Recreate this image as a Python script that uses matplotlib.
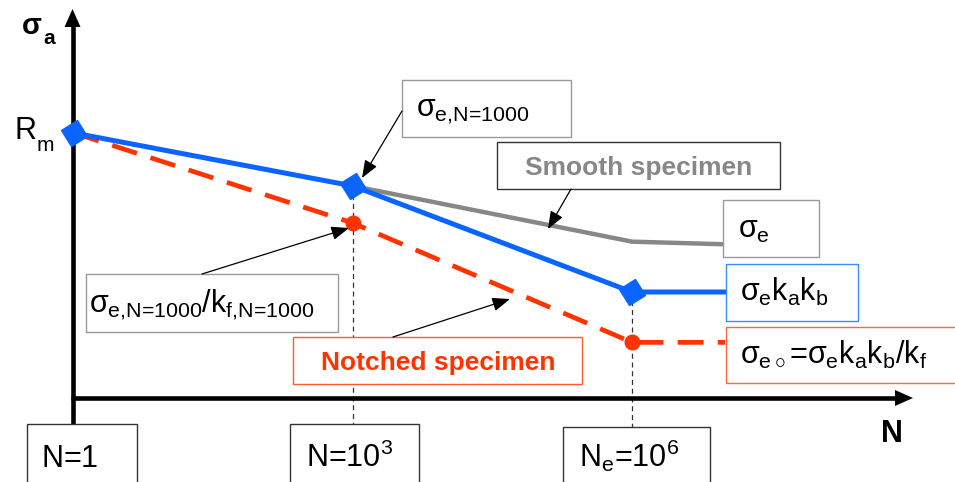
import numpy as np
import matplotlib
matplotlib.use("Agg")
import matplotlib.pyplot as plt
from matplotlib.transforms import Affine2D
from matplotlib.markers import MarkerStyle
from matplotlib.patches import Rectangle, Polygon

plt.rcParams['font.family'] = ['Liberation Sans', 'DejaVu Sans']
plt.rcParams['mathtext.fontset'] = 'custom'
plt.rcParams['mathtext.rm'] = 'Liberation Sans'
plt.rcParams['mathtext.it'] = 'Liberation Sans'
plt.rcParams['mathtext.bf'] = 'Liberation Sans:bold'

# ---- data (x = log10 N, y = sigma_a / R_m) ----
logN_blue = [0, 3, 6, 7]
sig_blue = [1.00, 0.80, 0.40, 0.40]
logN_gray = [3, 6, 7]
sig_gray = [0.80, 0.59, 0.58]
logN_red = [0, 3, 6, 7]
sig_red = [1.00, 0.66, 0.21, 0.21]
tick_logN = [0, 3, 6]
tick_labels = [r'$\text{N=1}$', r'$\text{N=10}^{\text{3}}$', r'$\text{N}_{\text{e}}\text{=10}^{\text{6}}$']

BLUE = '#0a64ff'
RED = '#ff3300'
GRAY = '#878787'

W, H = 955, 482
fig = plt.figure(figsize=(W / 100, H / 100), dpi=100)
ax = fig.add_axes([0, 0, 1, 1])
X0, XS, Y0, YS = 74, 93, 398, 265
ax.set_xlim(-X0 / XS, (W - X0) / XS)
ax.set_ylim((Y0 - H) / YS, Y0 / YS)
ax.axis('off')

# pixel transform (origin top-left)
P = Affine2D().scale(1 / W, -1 / H).translate(0, 1) + fig.transFigure


def ydata(ypx):
    return (Y0 - ypx) / YS


# ---- axes with arrows ----
ax.plot([72.5, 72.5], [426, 22], color='black', lw=3.3, transform=P, solid_capstyle='butt', zorder=3)
ax.plot([70.5, 900], [398, 398], color='black', lw=3.3, transform=P, solid_capstyle='butt', zorder=3)
ax.add_patch(Polygon([[72.5, 9], [64.5, 27], [80.5, 27]], closed=True, transform=P, fc='black', ec='none', zorder=3))
ax.add_patch(Polygon([[913, 398], [895, 390], [895, 406]], closed=True, transform=P, fc='black', ec='none', zorder=3))

# ---- vertical guides ----
for i, xv in enumerate([3, 6]):
    ax.plot([xv, xv], [sig_blue[i + 1], ydata(428)], color='#333333', lw=0.9,
            ls=(0, (4, 3)), zorder=2)

# ---- curves ----
diamond = MarkerStyle('s', transform=Affine2D().rotate_deg(32))
ax.plot(logN_red, sig_red, color=RED, lw=3.4, dashes=(5.5, 3), dash_capstyle='butt', zorder=3)
ax.plot(logN_red[1:3], sig_red[1:3], ls='none', marker='o', ms=10.5, color=RED, zorder=4)
ax.plot(logN_gray, sig_gray, color=GRAY, lw=3.2, zorder=3)
ax.plot(logN_blue, sig_blue, color=BLUE, lw=3.6, solid_joinstyle='miter', zorder=4)
ax.plot(logN_blue[:3], sig_blue[:3], ls='none', marker=diamond, ms=13.5, color=BLUE, zorder=5)


# ---- boxes ----
def box(x0, y0, x1, y1, ec):
    ax.add_patch(Rectangle((x0, y0), x1 - x0, y1 - y0, transform=P, fc='white', ec=ec,
                           lw=1.0, zorder=6, clip_on=False))


def txt(x, y, s, size, **kw):
    ax.text(x, y, s, transform=P, fontsize=size, va='baseline', zorder=7, **kw)


def arrow(x0, y0, x1, y1):
    ax.annotate('', xy=(x1, y1), xytext=(x0, y0), xycoords=P, textcoords=P,
                arrowprops=dict(arrowstyle='-|>,head_length=0.9,head_width=0.35', lw=0.9,
                                color='black', shrinkA=0, shrinkB=0, mutation_scale=12),
                zorder=8)


SIG = 22

box(402, 80, 571, 137, '#999999')
txt(416, 116, r'$\sigma_{\text{e,N=1000}}$', SIG)
arrow(402, 111, 362, 178)

box(497, 142, 780, 189, '#333333')
txt(639, 175, 'Smooth specimen', 19, color=GRAY, fontweight='bold', ha='center')
arrow(571, 189, 548, 229)

box(723, 200, 819, 257, '#999999')
txt(738, 238, r'$\sigma_{\text{e}}$', SIG)

box(726, 264, 858, 321, '#3a8cff')
txt(740, 301, r'$\sigma_{\text{e}}\text{k}_{\text{a}}\text{k}_{\text{b}}$', SIG)

box(726, 327, 960, 383, '#ff6640')
txt(740, 364, r'$\sigma_{\text{e}\circ}\text{=}\sigma_{\text{e}}\text{k}_{\text{a}}\text{k}_{\text{b}}\text{/k}_{\text{f}}$', SIG)

box(86, 274, 338, 332, '#999999')
txt(89, 312, r'$\sigma_{\text{e,N=1000}}\text{/k}_{\text{f,N=1000}}$', SIG)
arrow(202, 274, 349, 228)

box(293, 337, 582, 384, '#ff5a30')
txt(438, 370, 'Notched specimen', 19, color=RED, fontweight='bold', ha='center')
arrow(393, 337, 510, 299)

# ---- axis "tick" boxes ----
tick_boxes = [(27, 424, 137, 490), (290, 424, 419, 490), (563, 427, 710, 490)]
tick_text_x = [41, 306, 579]
for lx, lab, (x0, y0, x1, y1), tx in zip(tick_logN, tick_labels, tick_boxes, tick_text_x):
    box(x0, y0, x1, y1, '#333333')
    txt(tx, 467, lab, 22)

# ---- axis labels ----
txt(881, 442, 'N', 22, fontweight='bold')
txt(14, 139, 'R', 22)
txt(37, 151, 'm', 15)
txt(22, 34, '\u03c3', 21, fontweight='bold')
txt(43, 44, 'a', 15, fontweight='bold')

fig.savefig('out.png', dpi=100)
